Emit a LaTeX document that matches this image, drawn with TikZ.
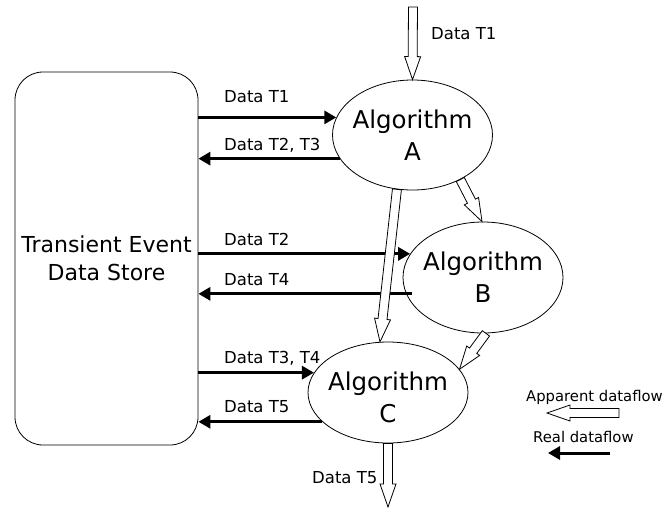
\documentclass[tikz,border=0pt]{standalone}
\usepackage{fontspec}
\setmainfont{DejaVu Sans}
\usetikzlibrary{arrows.meta,calc,shapes.geometric}

% block arrow from #1 to #2 (apparent dataflow)
\newcommand{\flowarrow}[2]{%
  \path (#1) coordinate (fa-s) (#2) coordinate (fa-e);
  \coordinate (fa-n) at ($(fa-e)!23pt!(fa-s)$);
  \filldraw[hollow] ($(fa-s)!4.5pt!90:(fa-e)$) -- ($(fa-n)!4.5pt!90:(fa-e)$)
    -- ($(fa-n)!8pt!90:(fa-e)$) -- (fa-e) -- ($(fa-n)!8pt!-90:(fa-e)$)
    -- ($(fa-n)!4.5pt!-90:(fa-e)$) -- ($(fa-s)!4.5pt!-90:(fa-e)$) -- cycle;
}

\begin{document}
\begin{tikzpicture}[
  x=1pt, y=-1pt,
  store/.style   = {rectangle, rounded corners=28pt, draw=black, line width=0.8pt,
                    minimum width=183pt, minimum height=373pt, align=center,
                    font=\fontsize{22}{28}\selectfont},
  algo/.style    = {ellipse, draw=black, line width=0.8pt, inner sep=0pt,
                    minimum width=160pt},
  algtext/.style = {align=center, font=\fontsize{24.5}{32}\selectfont},
  real/.style    = {-{Triangle[length=12pt,width=13pt]}, line width=3pt},
  hollow/.style  = {fill=white, draw=black, line width=0.8pt, line join=miter},
  lbl/.style     = {anchor=base west, inner sep=0pt, font=\fontsize{16.5}{20}\selectfont},
  legend/.style  = {anchor=base west, inner sep=0pt, font=\fontsize{14.8}{18}\selectfont}
]
\useasboundingbox (0,0) rectangle (666,507);

\node[store] (store) at (106.5,258.5) {Transient Event\\Data Store};
\node[algo, minimum height=110pt, label={[algtext]center:Algorithm\\A}] (algA) at (412.5,135.0) {};
\node[algo, minimum height=111pt, label={[algtext]center:Algorithm\\B}] (algB) at (483.0,277.5) {};
\node[algo, minimum height=101pt, label={[algtext, yshift=-5pt]center:Algorithm\\C}] (algC) at (388.0,392.5) {};

\coordinate (inA)   at (413,7);
\coordinate (outC)  at (388,507);
\coordinate (appS)  at (619,413);
\coordinate (appE)  at (547,413);
\coordinate (realS) at (610,453);
\coordinate (realE) at (548,453);

% real dataflow
\draw[real] (store.east |- algA.167) -- (algA.167);
\draw[real] (algA.198) -- (store.east |- algA.198);
\draw[real] (store.east |- algB.162) -- (algB.162);
\draw[real, shorten <=-6pt] (algB.192) -- (store.east |- algB.192);
\draw[real] (store.east |- algC.165) -- (algC.165);
\draw[real] (algC.204) -- (store.east |- algC.204);
\draw[real] (realS) -- (realE);

% apparent dataflow
\flowarrow{inA}{algA.north}
\flowarrow{algA.-43}{algB.91}
\flowarrow{algA.-106}{algC.99}
\flowarrow{algB.-87}{algC.18}
\flowarrow{algC.south}{outC}
\flowarrow{appS}{appE}

\node[lbl] (lT1)   at (224,102) {Data T1};
\node[lbl] (lT23)  at (224,150) {Data T2, T3};
\node[lbl] (lT2)   at (224,245) {Data T2};
\node[lbl] (lT4)   at (224,285) {Data T4};
\node[lbl] (lT34)  at (224,363) {Data T3, T4};
\node[lbl] (lT5)   at (224,412) {Data T5};
\node[lbl] (inT1)  at (431,39)  {Data T1};
\node[lbl] (outT5) at (312,483) {Data T5};

\node[legend] (legApp)  at (526,401) {Apparent dataflow};
\node[legend] (legReal) at (533,442) {Real dataflow};
\end{tikzpicture}
\end{document}
